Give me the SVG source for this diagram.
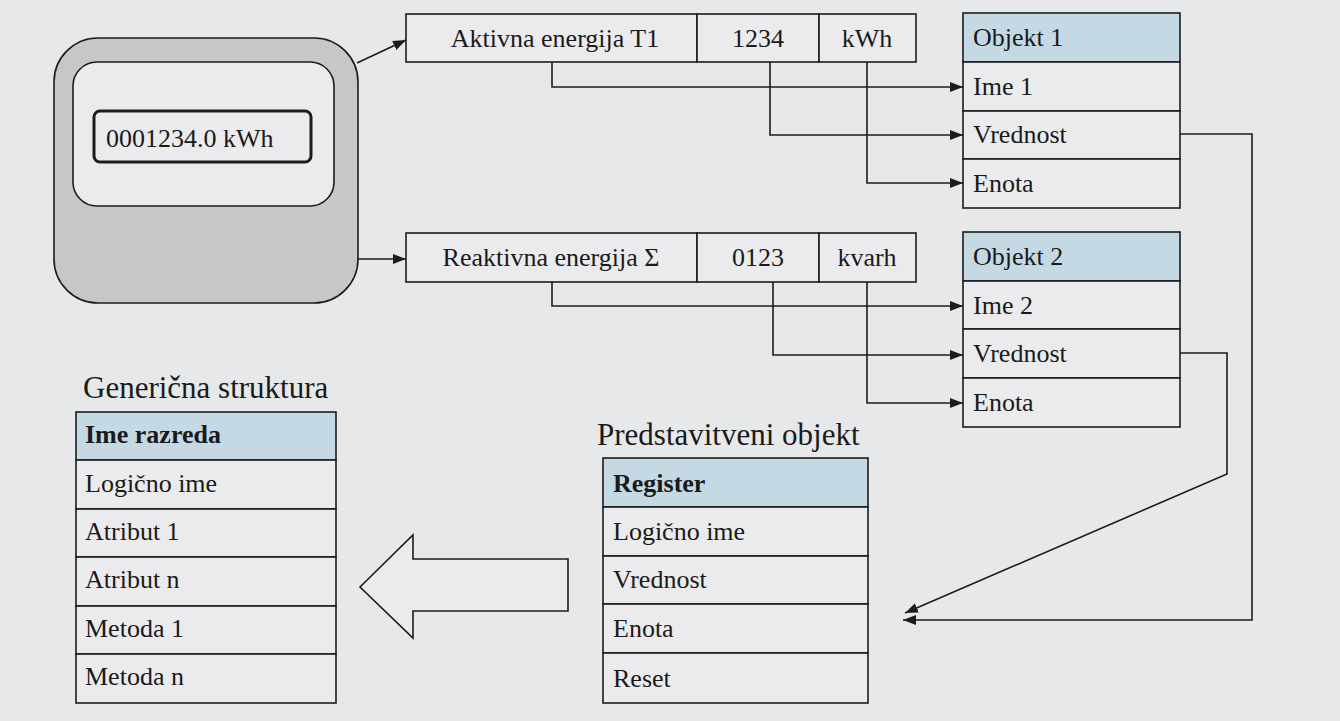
<svg xmlns="http://www.w3.org/2000/svg" width="1340" height="721" viewBox="0 0 1340 721">
<style>
  .bg{fill:#e7e8ea}
  .cell{fill:#ebebed;stroke:#1c1c1c;stroke-width:1.6}
  .hdr{fill:#c4d9e4;stroke:#1c1c1c;stroke-width:1.6}
  text{font-family:'Liberation Serif','DejaVu Serif',serif;fill:#1a1a1a}
  .t{font-size:26px}
  .b{font-weight:bold}
  .title{font-size:31px}
  .mid{text-anchor:middle}
  .conn{fill:none;stroke:#1c1c1c;stroke-width:1.6}
</style>
<defs>
  <marker id="ah" markerWidth="14" markerHeight="10" refX="13" refY="5" orient="auto" markerUnits="userSpaceOnUse">
    <path d="M0,0 L13,5 L0,10 Z" fill="#1c1c1c"/>
  </marker>
</defs>
<rect class="bg" x="0" y="0" width="1340" height="721"/>

<g id="meter">
  <rect x="54" y="38" width="304" height="265" rx="44" ry="44" fill="#c7c7c9" stroke="#1c1c1c" stroke-width="1.6"/>
  <rect x="73" y="62" width="261" height="144" rx="24" ry="24" fill="#ebebed" stroke="#1c1c1c" stroke-width="1.6"/>
  <rect x="94" y="111" width="217" height="51" rx="6" ry="6" fill="#ebebed" stroke="#1c1c1c" stroke-width="3"/>
  <text class="t" x="106" y="147" font-family="Liberation Serif, serif">0001234.0 kWh</text>
</g>

<g id="aktivna">
  <rect class="cell" x="406" y="14" width="291" height="48"/>
  <rect class="cell" x="697" y="14" width="122" height="48"/>
  <rect class="cell" x="819" y="14" width="97" height="48"/>
  <text class="t mid" x="555" y="47">Aktivna energija T1</text>
  <text class="t mid" x="758" y="47">1234</text>
  <text class="t mid" x="867" y="47">kWh</text>
</g>

<g id="reaktivna">
  <rect class="cell" x="406" y="233" width="291" height="49"/>
  <rect class="cell" x="697" y="233" width="122" height="49"/>
  <rect class="cell" x="819" y="233" width="97" height="49"/>
  <text class="t mid" x="551" y="266">Reaktivna energija Σ</text>
  <text class="t mid" x="758" y="266">0123</text>
  <text class="t mid" x="867" y="266">kvarh</text>
</g>

<g id="objekt1">
  <rect class="hdr" x="963" y="13" width="217" height="49"/>
  <rect class="cell" x="963" y="62" width="217" height="49"/>
  <rect class="cell" x="963" y="111" width="217" height="48"/>
  <rect class="cell" x="963" y="159" width="217" height="49"/>
  <text class="t" x="973" y="46">Objekt 1</text>
  <text class="t" x="973" y="95">Ime 1</text>
  <text class="t" x="973" y="143">Vrednost</text>
  <text class="t" x="973" y="192">Enota</text>
</g>

<g id="objekt2">
  <rect class="hdr" x="963" y="232" width="217" height="49"/>
  <rect class="cell" x="963" y="281" width="217" height="48"/>
  <rect class="cell" x="963" y="329" width="217" height="49"/>
  <rect class="cell" x="963" y="378" width="217" height="49"/>
  <text class="t" x="973" y="265">Objekt 2</text>
  <text class="t" x="973" y="314">Ime 2</text>
  <text class="t" x="973" y="362">Vrednost</text>
  <text class="t" x="973" y="411">Enota</text>
</g>

<g id="genericna">
  <text class="title" x="83" y="398">Generična struktura</text>
  <rect class="hdr" x="76" y="412" width="260" height="48"/>
  <rect class="cell" x="76" y="460" width="260" height="49"/>
  <rect class="cell" x="76" y="509" width="260" height="48"/>
  <rect class="cell" x="76" y="557" width="260" height="49"/>
  <rect class="cell" x="76" y="606" width="260" height="48"/>
  <rect class="cell" x="76" y="654" width="260" height="49"/>
  <text class="t b" x="85" y="443">Ime razreda</text>
  <text class="t" x="85" y="492">Logično ime</text>
  <text class="t" x="85" y="540">Atribut 1</text>
  <text class="t" x="85" y="588">Atribut n</text>
  <text class="t" x="85" y="637">Metoda 1</text>
  <text class="t" x="85" y="685">Metoda n</text>
</g>

<g id="predstavitveni">
  <text class="title" x="597" y="445">Predstavitveni objekt</text>
  <rect class="hdr" x="603" y="458" width="265" height="49"/>
  <rect class="cell" x="603" y="507" width="265" height="49"/>
  <rect class="cell" x="603" y="556" width="265" height="48"/>
  <rect class="cell" x="603" y="604" width="265" height="49"/>
  <rect class="cell" x="603" y="653" width="265" height="50"/>
  <text class="t b" x="613" y="492">Register</text>
  <text class="t" x="613" y="540">Logično ime</text>
  <text class="t" x="613" y="588">Vrednost</text>
  <text class="t" x="613" y="637">Enota</text>
  <text class="t" x="613" y="687">Reset</text>
</g>

<g id="bigarrow">
  <polygon points="360,587 413,535 413,559 568,559 568,611 413,611 413,638" fill="#ebebed" stroke="#1c1c1c" stroke-width="1.6"/>
</g>

<g id="connectors">
  <line class="conn" x1="357" y1="63" x2="406" y2="40" marker-end="url(#ah)"/>
  <line class="conn" x1="358" y1="259" x2="406" y2="259" marker-end="url(#ah)"/>
  <polyline class="conn" points="552,62 552,87 963,87" marker-end="url(#ah)"/>
  <polyline class="conn" points="770,62 770,135 963,135" marker-end="url(#ah)"/>
  <polyline class="conn" points="867,62 867,183 963,183" marker-end="url(#ah)"/>
  <polyline class="conn" points="552,282 552,306 963,306" marker-end="url(#ah)"/>
  <polyline class="conn" points="773,282 773,355 963,355" marker-end="url(#ah)"/>
  <polyline class="conn" points="867,282 867,403 963,403" marker-end="url(#ah)"/>
  <polyline class="conn" points="1180,134 1252,134 1252,620 903,620" marker-end="url(#ah)"/>
  <polyline class="conn" points="1180,353 1227,353 1227,474 905,613" marker-end="url(#ah)"/>
</g>
</svg>
